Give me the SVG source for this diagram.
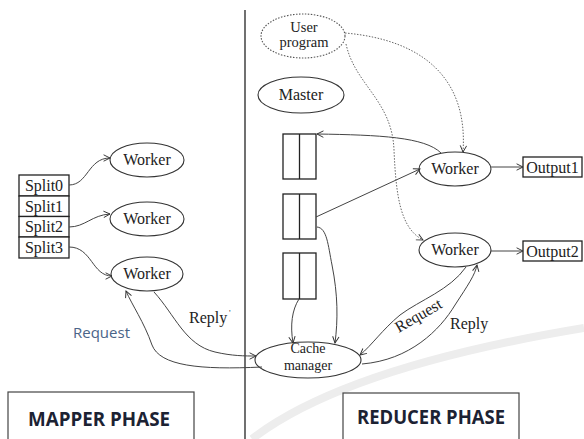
<svg xmlns="http://www.w3.org/2000/svg" width="584" height="439" viewBox="0 0 584 439">
  <style>
    .node { fill: #fff; stroke: #333; stroke-width: 1.1; }
    .dotted { fill: #fff; stroke: #555; stroke-width: 1.1; stroke-dasharray: 1.5 1.5; }
    .box { fill: #fff; stroke: #222; stroke-width: 1.3; }
    .lbl { font-family: "Liberation Serif", "DejaVu Serif", serif; font-size: 16px; fill: #222; text-anchor: middle; }
    .small { font-size: 14.5px; }
    .tiny { font-size: 14px; }
    .edge { fill: none; stroke: #444; stroke-width: 1; marker-end: url(#arrow); }
    .edge-dot { fill: none; stroke: #666; stroke-width: 1; stroke-dasharray: 1.5 1.5; marker-end: url(#arrow); }
    .phase { font-family: "Open Sans", "Liberation Sans", sans-serif; font-weight: bold; font-size: 19px; fill: #1c2233; }
  </style>
  <defs>
    <marker id="arrow" viewBox="0 0 10 10" refX="9" refY="5" markerWidth="8" markerHeight="8" markerUnits="userSpaceOnUse" orient="auto">
      <path d="M1,1 L9,5 L1,9" fill="none" stroke="#333" stroke-width="1.2"/>
    </marker>
  </defs>

  <rect width="584" height="439" fill="#fff"/>

  <!-- faint background swoosh -->
  <path d="M252,439 C300,402 390,360 584,328" fill="none" stroke="#ededed" stroke-width="8"/>

  <!-- phase divider -->
  <line x1="245" y1="10" x2="245" y2="439" stroke="#111" stroke-width="1.2"/>

  <!-- input splits -->
  <g id="splits">
    <rect class="box" x="19" y="175" width="50" height="21"/>
    <rect class="box" x="19" y="196" width="50" height="20.5"/>
    <rect class="box" x="19" y="216.5" width="50" height="20.5"/>
    <rect class="box" x="19" y="237" width="50" height="21"/>
    <text class="lbl" x="44" y="191">Split0</text>
    <text class="lbl" x="44" y="211.5">Split1</text>
    <text class="lbl" x="44" y="232">Split2</text>
    <text class="lbl" x="44" y="252.5">Split3</text>
  </g>

  <!-- map workers -->
  <g id="map-worker-1">
    <ellipse class="node" cx="147" cy="160" rx="37" ry="17"/>
    <text class="lbl" x="147" y="165">Worker</text>
  </g>
  <g id="map-worker-2">
    <ellipse class="node" cx="147" cy="219" rx="37" ry="17"/>
    <text class="lbl" x="147" y="224">Worker</text>
  </g>
  <g id="map-worker-3">
    <ellipse class="node" cx="147" cy="274" rx="36" ry="17"/>
    <text class="lbl" x="147" y="279">Worker</text>
  </g>

  <!-- control nodes -->
  <g id="user-program">
    <ellipse class="dotted" cx="303" cy="36" rx="42" ry="22"/>
    <text class="lbl small" x="304" y="32">User</text>
    <text class="lbl small" x="304" y="47">program</text>
  </g>
  <g id="master">
    <ellipse class="node" cx="301" cy="95" rx="43" ry="18"/>
    <text class="lbl" x="301" y="100">Master</text>
  </g>

  <!-- intermediate buffers -->
  <g id="buffer-1">
    <rect class="box" x="283" y="134" width="33" height="45"/>
    <line x1="299.5" y1="134" x2="299.5" y2="179" stroke="#222" stroke-width="1.3"/>
  </g>
  <g id="buffer-2">
    <rect class="box" x="283" y="194" width="33" height="45"/>
    <line x1="299.5" y1="194" x2="299.5" y2="239" stroke="#222" stroke-width="1.3"/>
  </g>
  <g id="buffer-3">
    <rect class="box" x="283" y="253" width="33" height="46"/>
    <line x1="299.5" y1="253" x2="299.5" y2="299" stroke="#222" stroke-width="1.3"/>
  </g>

  <!-- reduce workers and outputs -->
  <g id="reduce-worker-1">
    <ellipse class="node" cx="455" cy="169" rx="36" ry="17"/>
    <text class="lbl" x="455" y="174">Worker</text>
  </g>
  <g id="reduce-worker-2">
    <ellipse class="node" cx="455" cy="250" rx="36" ry="17"/>
    <text class="lbl" x="455" y="255">Worker</text>
  </g>
  <g id="output-1">
    <rect class="box" x="523" y="157" width="59" height="20"/>
    <text class="lbl" x="552.5" y="172.5">Output1</text>
  </g>
  <g id="output-2">
    <rect class="box" x="523" y="241" width="59" height="20"/>
    <text class="lbl" x="552.5" y="256.5">Output2</text>
  </g>

  <!-- cache manager -->
  <g id="cache-manager">
    <ellipse class="node" cx="308" cy="360" rx="53" ry="18"/>
    <text class="lbl tiny" x="308" y="353">Cache</text>
    <text class="lbl tiny" x="308" y="370">manager</text>
  </g>

  <!-- connectors -->
  <g id="connectors">
    <!-- splits to map workers -->
    <path class="edge" d="M69,185 C88,185 88,158 110,158"/>
    <path class="edge" d="M69,227 C85,227 92,215 110,214"/>
    <path class="edge" d="M69,247 C92,247 92,276 112,276"/>

    <!-- map side cache traffic -->
    <path class="edge" d="M262,367 C200,370 160,366 152,345 C144,322 132,305 126,291"/>
    <path class="edge" d="M154,292 C175,315 185,345 215,352 C232,356 245,356 256,356"/>

    <!-- user program dispatch -->
    <path class="edge-dot" d="M345,33 C425,40 468,80 463,152"/>
    <path class="edge-dot" d="M346,44 C355,85 392,100 394,150 C396,195 400,228 423,240"/>

    <!-- reduce worker 1 with buffers -->
    <path class="edge" d="M441,153 C425,137 380,135 317,134"/>
    <path class="edge" d="M316,217 L420,169"/>

    <!-- buffers to cache manager -->
    <path class="edge" d="M317,227 C327,228 328,245 332,265 C338,295 338,320 335,343"/>
    <path class="edge" d="M299,299 C292,310 290,325 293,343"/>

    <!-- reduce worker outputs -->
    <path class="edge" d="M491,167 L523,167"/>
    <path class="edge" d="M491,251 L523,251"/>

    <!-- reduce side cache traffic -->
    <path class="edge" d="M466,267 C450,290 420,300 400,315 C382,330 372,345 360,355"/>
    <path class="edge" d="M362,364 C410,360 440,330 455,305 C468,285 475,275 477,265"/>
  </g>

  <!-- connector labels -->
  <text x="189" y="323" font-family="Liberation Serif, DejaVu Serif, serif" font-size="16" fill="#222">Reply</text>
  <text x="229" y="316" font-family="Liberation Serif, DejaVu Serif, serif" font-size="9" fill="#444">'</text>
  <text x="73" y="338" font-family="Open Sans, Liberation Sans, sans-serif" font-size="14" fill="#4a6488" textLength="57" lengthAdjust="spacingAndGlyphs">Request</text>
  <text x="0" y="0" font-family="Liberation Serif, DejaVu Serif, serif" font-size="16" fill="#222" text-anchor="middle" transform="translate(421,320) rotate(-30)">Request</text>
  <text x="450" y="329" font-family="Liberation Serif, DejaVu Serif, serif" font-size="16" fill="#222">Reply</text>

  <!-- phase captions -->
  <g id="mapper-phase">
    <rect x="8" y="392" width="186" height="60" fill="none" stroke="#444" stroke-width="1.2"/>
    <text class="phase" x="28" y="426" textLength="142" lengthAdjust="spacingAndGlyphs">MAPPER PHASE</text>
  </g>
  <g id="reducer-phase">
    <rect x="343" y="393" width="176" height="60" fill="none" stroke="#444" stroke-width="1.2"/>
    <text class="phase" x="357" y="424" textLength="148" lengthAdjust="spacingAndGlyphs">REDUCER PHASE</text>
  </g>
</svg>
